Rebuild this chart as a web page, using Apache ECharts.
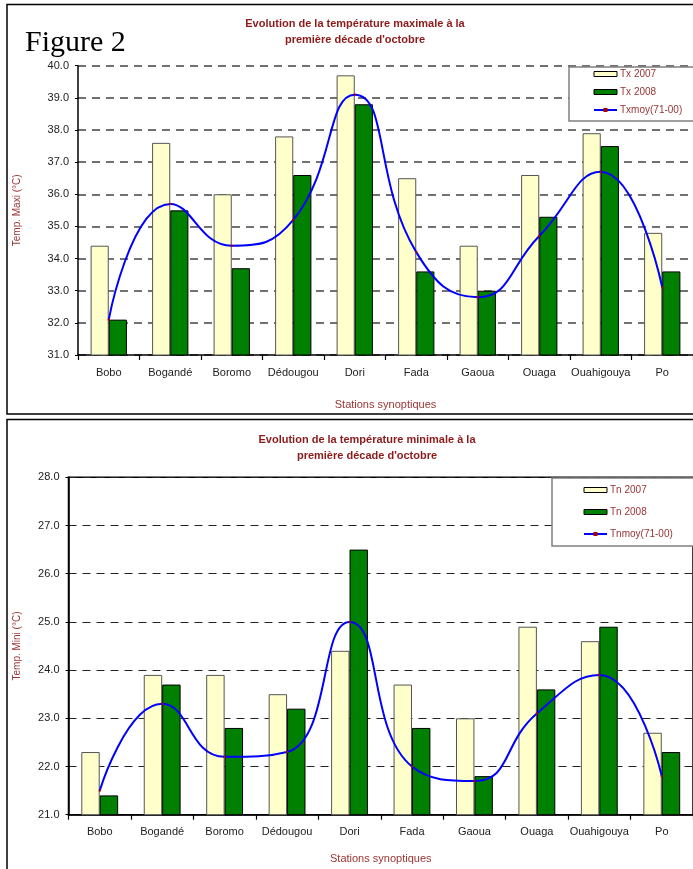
<!DOCTYPE html>
<html>
<head>
<meta charset="utf-8">
<script src="https://cdn.jsdelivr.net/npm/echarts@6/dist/echarts.min.js"></script>
<style>
html,body{margin:0;padding:0;background:#fff;}
#c{width:693px;height:869px;}
</style>
</head>
<body>
<div id="c"></div>
<script>
const stations = ['Bobo','Bogandé','Boromo','Dédougou','Dori','Fada','Gaoua','Ouaga','Ouahigouya','Po'];
const tx2007 = [34.4, 37.6, 36.0, 37.8, 39.7, 36.5, 34.4, 36.6, 37.9, 34.8];
const tx2008 = [32.1, 35.5, 33.7, 36.6, 38.8, 33.6, 33.0, 35.3, 37.5, 33.6];
const txMoy  = [32.1, 35.7, 34.4, 35.2, 39.1, 34.2, 32.8, 34.7, 36.7, 33.1];
const tn2007 = [22.3, 23.9, 23.9, 23.5, 24.4, 23.7, 23.0, 24.9, 24.6, 22.7];
const tn2008 = [21.4, 23.7, 22.8, 23.2, 26.5, 22.8, 21.8, 23.6, 24.9, 22.3];
const tnMoy  = [21.5, 23.3, 22.2, 22.3, 25.0, 22.0, 21.7, 23.1, 23.9, 21.8];

const titleColor = '#8b1a1a';
const labelColor = '#993333';
const font = 'Liberation Sans, Arial, sans-serif';

const chart = echarts.init(document.getElementById('c'), null, {renderer: 'canvas'});

function xAxisCfg(gridIndex, nameGap) {
  return {
    type: 'category', gridIndex, data: stations,
    name: 'Stations synoptiques', nameLocation: 'middle', nameGap,
    nameTextStyle: {color: labelColor, fontSize: 11, fontFamily: font},
    axisLine: {show: true, lineStyle: {color: '#000', width: 1.5}},
    axisTick: {show: true, length: 5, interval: 0, lineStyle: {color: '#000', width: 1.2}},
    axisLabel: {color: '#222', fontSize: 11, fontFamily: font, margin: 12, interval: 0},
    splitLine: {show: false}
  };
}
function yAxisCfg(gridIndex, min, max, name, nameGap, gridColor, gridWidth) {
  return {
    type: 'value', gridIndex, min, max, interval: 1,
    name, nameLocation: 'middle', nameGap, nameRotate: 90,
    nameTextStyle: {color: labelColor, fontSize: 10, fontFamily: font},
    axisLine: {show: true, lineStyle: {color: '#000', width: 1.5}},
    axisTick: {show: true, length: 3, lineStyle: {color: '#000'}},
    axisLabel: {color: '#222', fontSize: 11, fontFamily: font, margin: 9,
      formatter: v => v.toFixed(1)},
    splitLine: {show: true, lineStyle: {color: gridColor, width: gridWidth, type: [8, 6]}}
  };
}
function barSeries(name, data, xi, color, border) {
  return {
    type: 'bar', name, data, xAxisIndex: xi, yAxisIndex: xi,
    barGap: '0%', barCategoryGap: '41%',
    itemStyle: {color, borderColor: border, borderWidth: 1}
  };
}
function lineSeries(name, data, xi) {
  return {
    type: 'line', name, data, xAxisIndex: xi, yAxisIndex: xi,
    smooth: 0.5, symbol: 'rect', symbolSize: 2, showSymbol: true,
    lineStyle: {color: '#0000ff', width: 2},
    itemStyle: {color: '#b00000'}, z: 5
  };
}
function barIcon(name) {
  return {name, icon: 'rect', itemStyle: {borderWidth: 1, borderColor: '#000'}};
}

const option = {
  animation: false,
  backgroundColor: '#fff',
  grid: [
    {left: 78, top: 65.7, width: 620, height: 289.3, show: false},
    {left: 68.5, top: 477.3, width: 629, height: 337.4, show: true, borderColor: '#000', borderWidth: 1.5, backgroundColor: 'transparent'}
  ],
  xAxis: [xAxisCfg(0, 44), xAxisCfg(1, 39)],
  yAxis: [
    yAxisCfg(0, 31, 40, 'Temp. Maxi (°C)', 56, '#444', 1.5),
    yAxisCfg(1, 21, 28, 'Temp. Mini (°C)', 46, '#222', 1)
  ],
  legend: [
    {
      data: [barIcon('Tx 2007'), barIcon('Tx 2008'), {name: 'Txmoy(71-00)'}],
      orient: 'vertical', left: 569, top: 67,
      padding: [2, 80, 6, 24], itemGap: 8, itemWidth: 23, itemHeight: 5,
      backgroundColor: '#fff', borderColor: '#808080', borderWidth: 1.5,
      textStyle: {color: labelColor, fontSize: 10, fontFamily: font, padding: [0, 0, 0, -2]},
      selectedMode: false
    },
    {
      data: [barIcon('Tn 2007'), barIcon('Tn 2008'), {name: 'Tnmoy(71-00)'}],
      orient: 'vertical', left: 552, top: 478,
      padding: [7, 80, 7, 31], itemGap: 12, itemWidth: 23, itemHeight: 5,
      backgroundColor: '#fff', borderColor: '#808080', borderWidth: 1.5,
      textStyle: {color: labelColor, fontSize: 10, fontFamily: font, padding: [0, 0, 0, -2]},
      selectedMode: false
    }
  ],
  series: [
    barSeries('Tx 2007', tx2007, 0, '#ffffcc', '#555'),
    barSeries('Tx 2008', tx2008, 0, '#008000', '#000'),
    lineSeries('Txmoy(71-00)', txMoy, 0),
    barSeries('Tn 2007', tn2007, 1, '#ffffcc', '#555'),
    barSeries('Tn 2008', tn2008, 1, '#008000', '#000'),
    lineSeries('Tnmoy(71-00)', tnMoy, 1)
  ],
  graphic: [
    {type: 'rect', shape: {x: 7, y: 4.5, width: 700, height: 409.5}, style: {fill: 'none', stroke: '#000', lineWidth: 1.5}, z: 100, silent: true},
    {type: 'rect', shape: {x: 7, y: 419.5, width: 700, height: 470}, style: {fill: 'none', stroke: '#000', lineWidth: 1.5}, z: 100, silent: true},
    {type: 'text', x: 25, y: 28, style: {text: 'Figure 2', fill: '#000', font: '30px "Liberation Serif", "Times New Roman", serif', textVerticalAlign: 'top'}, z: 100},
    {type: 'text', x: 355, y: 16, style: {text: 'Evolution de la température maximale à la\npremière décade d\'octobre', fill: titleColor, font: 'bold 11px ' + font, textAlign: 'center', textVerticalAlign: 'top', lineHeight: 16}, z: 100},
    {type: 'text', x: 367, y: 432, style: {text: 'Evolution de la température minimale à la\npremière décade d\'octobre', fill: titleColor, font: 'bold 11px ' + font, textAlign: 'center', textVerticalAlign: 'top', lineHeight: 16}, z: 100}
  ]
};
chart.setOption(option);
</script>
</body>
</html>
